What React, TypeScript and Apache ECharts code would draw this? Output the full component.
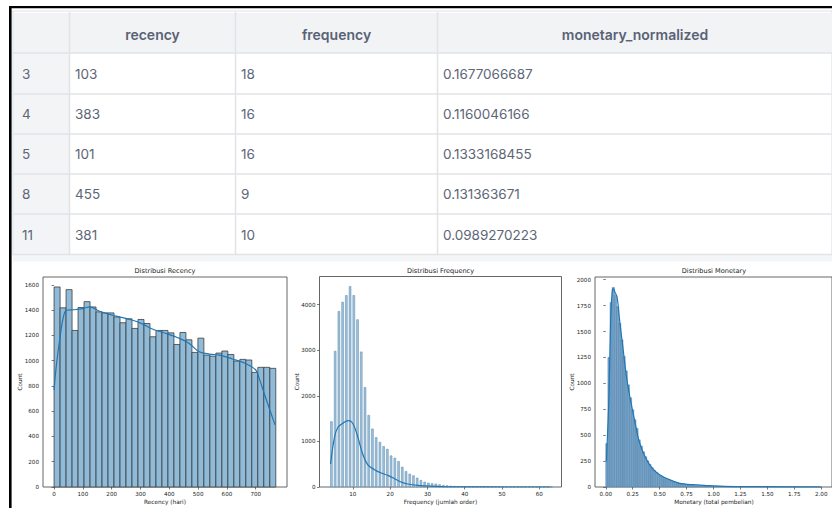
import React, { useEffect, useRef } from "react";
import * as echarts from "echarts";

// ---------- table data ----------
const tableHeaders = ["recency", "frequency", "monetary_normalized"];
const rowIndex = ["3", "4", "5", "8", "11"];
const recencyCol = ["103", "383", "101", "455", "381"];
const frequencyCol = ["18", "16", "16", "9", "10"];
const monetaryCol = ["0.1677066687", "0.1160046166", "0.1333168455", "0.131363671", "0.0989270223"];

// ---------- chart titles / labels ----------
const chartTitles = ["Distribusi Recency", "Distribusi Frequency", "Distribusi Monetary"];
const xLabels = ["Recency (hari)", "Frequency (jumlah order)", "Monetary (total pembelian)"];
const yLabel = "Count";

// ---------- recency histogram ----------
const recencyBinWidth = 20.8;
const recencyCounts = [1583, 1418, 1562, 1239, 1420, 1467, 1425, 1386, 1378, 1378, 1346, 1300, 1331, 1255, 1326, 1294, 1189, 1239, 1239, 1220, 1128, 1223, 1165, 1065, 1178, 1044, 1036, 1060, 1076, 1049, 997, 1010, 1005, 907, 947, 947, 939];
const recencyKde = [[0, 768], [8, 965], [20, 1175], [31, 1333], [43, 1399], [70, 1403], [100, 1412], [123, 1425], [158, 1391], [216, 1352], [273, 1320], [308, 1289], [343, 1249], [389, 1215], [435, 1176], [469, 1136], [504, 1070], [539, 1052], [573, 1044], [619, 1013], [665, 978], [700, 926], [712, 860], [735, 702], [767, 492]];
const recencyTicks = [0, 100, 200, 300, 400, 500, 600, 700];
const recencyYTicks = [0, 200, 400, 600, 800, 1000, 1200, 1400, 1600];

// ---------- frequency histogram ----------
const frequencyStart = 4;
const frequencyBinWidth = 0.5;
const frequencyCounts = [1435, 2979, 3853, 4057, 4202, 4399, 4202, 3671, 2964, 2185, 1573, 1275, 1085, 983, 889, 830, 685, 634, 561, 437, 342, 284, 248, 197, 146, 109, 87, 73, 66, 51, 36, 29, 22, 16, 12, 9, 7, 6, 5, 4, 3, 3, 2, 2, 2, 1, 1, 1, 1, 1, 1, 0, 1, 0, 0, 1, 0, 0, 0, 1];
const frequencyKde = [[4, 503], [5.1, 1107], [6, 1311], [7.3, 1398], [8.7, 1457], [9.6, 1435], [10.4, 1325], [11.3, 1107], [12.7, 706], [14, 488], [15.8, 379], [17.6, 306], [19.4, 255], [21.2, 182], [22.9, 109], [24.7, 66], [27.4, 36], [31.9, 15], [36, 3], [45, 1], [63, 0]];
const frequencyTicks = [10, 20, 30, 40, 50, 60];
const frequencyYTicks = [0, 1000, 2000, 3000, 4000];

// ---------- monetary histogram ----------
const monetaryBinWidth = 0.02;
const monetaryCounts = [420, 1250, 1780, 1925, 1850, 1740, 1580, 1420, 1260, 1120, 985, 860, 745, 650, 565, 455, 395, 340, 292, 252, 218, 188, 162, 140, 122, 108, 94, 82, 72, 63, 56, 49, 43, 38, 33, 29, 26, 23, 20, 18, 16, 14, 13, 12, 11, 10, 9, 8, 8, 7, 6, 6, 5, 5, 5, 4, 4, 4, 3, 3, 3, 3, 3, 2, 2, 2, 2, 2, 2, 2, 2, 1, 1, 1, 1, 1, 1, 1, 1, 1, 1, 1, 1, 1, 1, 1, 1, 1, 1, 1, 1, 0, 1, 0, 1, 0, 1, 0, 0, 1];
const monetaryKde = [[0.006, 247], [0.03, 888], [0.045, 1593], [0.06, 1890], [0.07, 1913], [0.085, 1880], [0.105, 1833], [0.13, 1593], [0.16, 1337], [0.19, 1080], [0.22, 888], [0.27, 631], [0.31, 439], [0.37, 279], [0.43, 183], [0.5, 119], [0.59, 71], [0.68, 38], [0.8, 22], [0.96, 13], [1.1, 6], [1.4, 3], [2.0, 0]];
const monetaryTicks = [0, 0.25, 0.5, 0.75, 1.0, 1.25, 1.5, 1.75, 2.0];
const monetaryYTicks = [0, 250, 500, 750, 1000, 1250, 1500, 1750, 2000];

const PLOT_FONT = "DejaVu Sans";
const TABLE_FONT = "Inter";

function histRender(fill: string, stroke: string, lw: number) {
  return (params: any, api: any) => {
    const x0 = api.value(0);
    const x1 = api.value(1);
    const y = api.value(2);
    const p0 = api.coord([x0, y]);
    const p1 = api.coord([x1, 0]);
    return {
      type: "rect",
      shape: { x: p0[0], y: p0[1], width: p1[0] - p0[0], height: p1[1] - p0[1] },
      style: { fill, stroke, lineWidth: lw },
    };
  };
}

function bins(start: number, width: number, counts: number[]) {
  return counts.map((c, i) => [start + i * width, start + (i + 1) * width, c]);
}

export default function App() {
  const ref = useRef<HTMLDivElement>(null);

  useEffect(() => {
    if (!ref.current) return;
    const chart = echarts.init(ref.current, undefined, { renderer: "svg" });

    const grids = [
      { left: 43, top: 277, width: 244, height: 210 },
      { left: 319.5, top: 276.5, width: 242, height: 210.5 },
      { left: 595, top: 277, width: 238, height: 210 },
    ];

    const tickStyle = { show: true, inside: false, length: 2.5, lineStyle: { color: "#444", width: 0.7 } };
    const labelStyle = { fontSize: 5.6, color: "#222", fontFamily: PLOT_FONT };

    const mkX = (idx: number, min: number, max: number, ticks: number[], fmt?: (v: number) => string) => ({
      type: "value",
      gridIndex: idx,
      min,
      max,
      axisLine: { show: false },
      splitLine: { show: false },
      axisTick: { ...tickStyle, customValues: ticks },
      axisLabel: { ...labelStyle, margin: 4, customValues: ticks, formatter: fmt ? fmt : (v: number) => String(v) },
    });
    const mkY = (idx: number, max: number, ticks: number[]) => ({
      type: "value",
      gridIndex: idx,
      min: 0,
      max,
      axisLine: { show: false },
      splitLine: { show: false },
      axisTick: { ...tickStyle, customValues: ticks },
      axisLabel: { ...labelStyle, margin: 4, customValues: ticks, formatter: (v: number) => String(v) },
    });

    const tableLeft = 13;
    const tableRight = 832;
    const headerTop = 12;
    const rowLines = [53, 94, 134, 174, 214, 254.5];
    const colLines = [69.5, 235.5, 437.5];
    const headerCenters = [152.5, 336.5, 635];
    const cellX = [22, 75, 241, 443];

    const g: any[] = [];
    // table background
    g.push({ type: "rect", shape: { x: tableLeft, y: 11, width: tableRight - tableLeft, height: 244 }, style: { fill: "#ffffff", stroke: "#dde2e8", lineWidth: 1.2 }, silent: true });
    g.push({ type: "rect", shape: { x: tableLeft + 1, y: headerTop + 1, width: tableRight - tableLeft - 1, height: rowLines[0] - headerTop - 1 }, style: { fill: "#f2f3f5" }, silent: true });
    g.push({ type: "rect", shape: { x: tableLeft + 1, y: rowLines[0], width: colLines[0] - tableLeft - 1, height: rowLines[5] - rowLines[0] }, style: { fill: "#f3f4f6" }, silent: true });
    rowLines.forEach((y) => {
      g.push({ type: "line", shape: { x1: tableLeft, y1: y, x2: tableRight, y2: y }, style: { stroke: "#e1e3e7", lineWidth: 1.5 }, silent: true });
    });
    colLines.forEach((x) => {
      g.push({ type: "line", shape: { x1: x, y1: headerTop, x2: x, y2: rowLines[5] }, style: { stroke: "#e1e3e7", lineWidth: 1.5 }, silent: true });
    });
    // band under table
    g.push({ type: "rect", shape: { x: tableLeft, y: 255.5, width: tableRight - tableLeft, height: 6 }, style: { fill: "#f4f5f7" }, silent: true });
    // header texts
    tableHeaders.forEach((h, i) => {
      g.push({ type: "text", x: headerCenters[i], y: 34, style: { text: h, fill: "#586275", font: `600 14px ${TABLE_FONT}`, align: "center", verticalAlign: "middle" }, silent: true });
    });
    // body texts
    const rowCenters = [74, 114, 154, 194, 234.5];
    const cols = [rowIndex, recencyCol, frequencyCol, monetaryCol];
    cols.forEach((col, ci) => {
      col.forEach((v, ri) => {
        g.push({ type: "text", x: cellX[ci], y: rowCenters[ri], style: { text: v, fill: "#5d6676", font: `400 13.5px ${TABLE_FONT}`, align: "left", verticalAlign: "middle" }, silent: true });
      });
    });
    // chart titles and axis labels
    grids.forEach((gr, i) => {
      const cx = gr.left + gr.width / 2;
      const cy = gr.top + gr.height / 2;
      g.push({ type: "text", x: cx, y: 271, style: { text: chartTitles[i], fill: "#222", font: `6.6px ${PLOT_FONT}`, align: "center", verticalAlign: "middle" }, silent: true });
      g.push({ type: "text", x: cx, y: 502, style: { text: xLabels[i], fill: "#222", font: `5.8px ${PLOT_FONT}`, align: "center", verticalAlign: "middle" }, silent: true });
      g.push({ type: "text", x: gr.left - 23, y: cy, rotation: Math.PI / 2, style: { text: yLabel, fill: "#222", font: `5.8px ${PLOT_FONT}`, align: "center", verticalAlign: "middle" }, silent: true });
    });
    // black page frame
    g.push({ type: "rect", shape: { x: 9, y: 6, width: 823, height: 2.2 }, style: { fill: "#000" }, silent: true });
    g.push({ type: "rect", shape: { x: 9, y: 6, width: 2.6, height: 502 }, style: { fill: "#000" }, silent: true });

    const option: any = {
      animation: false,
      backgroundColor: "#ffffff",
      grid: grids.map((gr) => ({ ...gr, show: true, borderColor: "#555", borderWidth: 0.9, backgroundColor: "transparent", containLabel: false })),
      xAxis: [
        mkX(0, -38.5, 808.5, recencyTicks),
        mkX(1, 1.05, 65.95, frequencyTicks),
        mkX(2, -0.1, 2.1, monetaryTicks, (v: number) => v.toFixed(2)),
      ],
      yAxis: [mkY(0, 1662, recencyYTicks), mkY(1, 4619, frequencyYTicks), mkY(2, 2026, monetaryYTicks)],
      series: [
        {
          type: "custom",
          xAxisIndex: 0,
          yAxisIndex: 0,
          renderItem: histRender("#8fbbd9", "#3c3c3c", 0.8),
          data: bins(0, recencyBinWidth, recencyCounts),
          encode: { x: [0, 1], y: 2 },
          silent: true,
          z: 2,
        },
        {
          type: "line",
          xAxisIndex: 0,
          yAxisIndex: 0,
          data: recencyKde,
          showSymbol: false,
          smooth: 0.35,
          lineStyle: { color: "#1f77b4", width: 1.2 },
          silent: true,
          z: 3,
        },
        {
          type: "custom",
          xAxisIndex: 1,
          yAxisIndex: 1,
          renderItem: histRender("#9cc2de", "#5c86a8", 0.5),
          data: bins(frequencyStart, 1, frequencyCounts).map((b) => [b[0], b[0] + frequencyBinWidth, b[2]]),
          encode: { x: [0, 1], y: 2 },
          silent: true,
          z: 2,
        },
        {
          type: "line",
          xAxisIndex: 1,
          yAxisIndex: 1,
          data: frequencyKde,
          showSymbol: false,
          smooth: 0.35,
          lineStyle: { color: "#1f77b4", width: 1.2 },
          silent: true,
          z: 3,
        },
        {
          type: "custom",
          xAxisIndex: 2,
          yAxisIndex: 2,
          renderItem: histRender("#76a3c8", "#4f7ea6", 0.5),
          data: bins(0, monetaryBinWidth, monetaryCounts),
          encode: { x: [0, 1], y: 2 },
          silent: true,
          z: 2,
        },
        {
          type: "line",
          xAxisIndex: 2,
          yAxisIndex: 2,
          data: monetaryKde,
          showSymbol: false,
          smooth: 0.35,
          lineStyle: { color: "#1f77b4", width: 1.2 },
          silent: true,
          z: 3,
        },
      ],
      graphic: { elements: g },
    };

    chart.setOption(option);
    return () => chart.dispose();
  }, []);

  return (
    <div
      ref={ref}
      style={{ position: "absolute", left: 0, top: 0, width: 832, height: 508, background: "#fff" }}
    />
  );
}
